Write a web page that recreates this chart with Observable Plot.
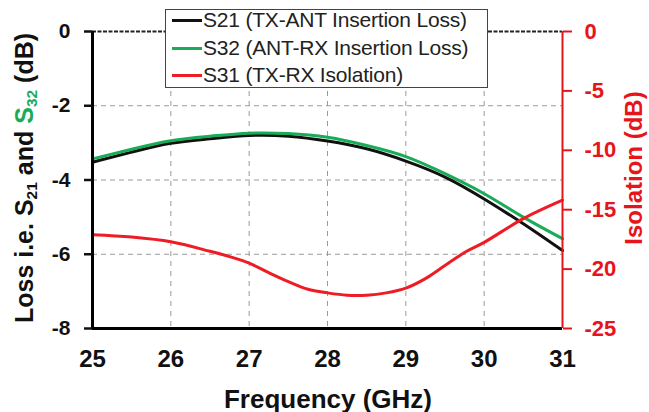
<!DOCTYPE html>
<html>
<head>
<meta charset="utf-8">
<script src="https://cdn.jsdelivr.net/npm/d3@7"></script>
<script src="https://cdn.jsdelivr.net/npm/@observablehq/plot@0.6"></script>
<style>
  html, body { margin: 0; padding: 0; background: #fff; }
  #wrap { position: relative; width: 649px; height: 412px; font-family: "Liberation Sans", Arial, sans-serif; }
  #wrap svg { position: absolute; left: 0; top: 0; }
  .ov { position: absolute; white-space: nowrap; }
  .sub { font-size: 0.62em; position: relative; top: 0.28em; }
  #legend { position: absolute; left: 165px; top: 9px; width: 323px; height: 79px; box-sizing: border-box;
            border: 1.5px solid #444; background: #fff; }
  .lrow { position: absolute; left: 6px; height: 24px; font-size: 21px; color: #222; display: flex; align-items: center; letter-spacing: -0.2px; }
  .sw { width: 30px; height: 3px; margin-right: 1px; }
</style>
</head>
<body>
<div id="wrap"></div>
<script>
// ---- data ----
const freq = [25, 25.5, 26, 26.5, 27, 27.5, 28, 28.5, 29, 29.5, 30, 30.5, 31];
const s21  = [-3.52, -3.25, -3.01, -2.89, -2.80, -2.82, -2.95, -3.16, -3.49, -3.92, -4.51, -5.18, -5.90];
const s32  = [-3.43, -3.17, -2.94, -2.82, -2.74, -2.75, -2.85, -3.07, -3.37, -3.83, -4.37, -5.00, -5.58];
const isoFreq = [25, 25.5, 26, 26.5, 26.75, 27, 27.25, 27.5, 27.75, 28, 28.25, 28.5, 28.75, 29, 29.25, 29.5, 29.75, 30, 30.5, 31];
const s31     = [-17.1, -17.3, -17.7, -18.5, -18.95, -19.5, -20.3, -21.05, -21.7, -22.0, -22.2, -22.2, -22.0, -21.6, -20.8, -19.7, -18.6, -17.75, -15.75, -14.2];
const xTicks = [25, 26, 27, 28, 29, 30, 31];
const lossTicks = [0, -2, -4, -6, -8];
const isoTicks = [0, -5, -10, -15, -20, -25];
const seriesNames = ["S21 (TX-ANT Insertion Loss)", "S32 (ANT-RX Insertion Loss)", "S31 (TX-RX Isolation)"];
const seriesColors = ["#111111", "#1aab58", "#ee1c24"];

const lossMin = -8, isoMin = -25;
const isoToLoss = v => v * lossMin / isoMin;

const rows = (xs, ys) => xs.map((f, i) => ({f, v: ys[i]}));

const plot = Plot.plot({
  width: 649, height: 412,
  marginLeft: 92, marginRight: 87, marginTop: 31, marginBottom: 84,
  style: {fontFamily: "Liberation Sans, Arial, sans-serif", background: "transparent", overflow: "visible"},
  x: {domain: [25, 31]},
  y: {domain: [lossMin, 0]},
  marks: [
    Plot.gridX([26, 27, 28, 29, 30], {stroke: "#9a9a9a", strokeOpacity: 1, strokeWidth: 1, strokeDasharray: "5,5"}),
    Plot.gridY([-2, -4, -6], {stroke: "#9a9a9a", strokeOpacity: 1, strokeWidth: 1.2, strokeDasharray: "5,4"}),
    Plot.ruleY([0], {stroke: "#222", strokeWidth: 2.2, strokeDasharray: "4,1.5"}),
    Plot.line(rows(freq, s21), {x: "f", y: "v", stroke: seriesColors[0], strokeWidth: 3, curve: "natural"}),
    Plot.line(rows(freq, s32), {x: "f", y: "v", stroke: seriesColors[1], strokeWidth: 3, curve: "natural"}),
    Plot.line(rows(isoFreq, s31), {x: "f", y: d => isoToLoss(d.v), stroke: seriesColors[2], strokeWidth: 3, curve: "catmull-rom"}),
    Plot.ruleX([25], {stroke: "#000", strokeWidth: 3}),
    Plot.ruleY([lossMin], {stroke: "#000", strokeWidth: 3}),
    Plot.ruleX([31], {stroke: "#e8141b", strokeWidth: 2}),
    Plot.axisX(xTicks, {tickSize: 0, tickPadding: 21, fontSize: 24, fontWeight: "bold", color: "#111", label: null, tickFormat: d => String(d)}),
    Plot.axisY(lossTicks, {anchor: "left", tickSize: 8, strokeWidth: 2.5, tickPadding: 14, fontSize: 21, fontWeight: "bold", color: "#111", label: null, tickFormat: d => String(d)}),
    Plot.axisY(isoTicks.map(isoToLoss), {anchor: "right", tickSize: 9, strokeWidth: 2, tickPadding: 13, fontSize: 22, fontWeight: "bold", color: "#e8141b", label: null, tickFormat: d => String(Math.round(d * isoMin / lossMin))})
  ]
});

const wrap = document.getElementById("wrap");
wrap.appendChild(plot);

// axis titles
const yt = document.createElement("div");
yt.className = "ov";
yt.style.cssText = "left:24px;top:178px;transform:translate(-50%,-50%) rotate(-90deg);font-weight:bold;font-size:25px;color:#111;";
yt.innerHTML = 'Loss i.e. S<span class="sub">21</span> and <span style="color:#1aab58">S<span class="sub">32</span></span> (dB)';
wrap.appendChild(yt);

const rt = document.createElement("div");
rt.className = "ov";
rt.style.cssText = "left:634px;top:168px;transform:translate(-50%,-50%) rotate(-90deg);font-weight:bold;font-size:24px;line-height:26px;color:#e8141b;";
rt.textContent = "Isolation (dB)";
wrap.appendChild(rt);

const xt = document.createElement("div");
xt.className = "ov";
xt.style.cssText = "left:328px;top:399px;transform:translate(-50%,-50%);font-weight:bold;font-size:26px;color:#111;";
xt.textContent = "Frequency (GHz)";
wrap.appendChild(xt);

// legend
const lg = document.createElement("div");
lg.id = "legend";
const rowTops = [-2, 26, 53];
seriesNames.forEach((name, i) => {
  const r = document.createElement("div");
  r.className = "lrow";
  r.style.top = rowTops[i] + "px";
  const sw = document.createElement("span");
  sw.className = "sw";
  sw.style.background = seriesColors[i];
  const t = document.createElement("span");
  t.textContent = name;
  r.appendChild(sw); r.appendChild(t);
  lg.appendChild(r);
});
wrap.appendChild(lg);
</script>
</body>
</html>
